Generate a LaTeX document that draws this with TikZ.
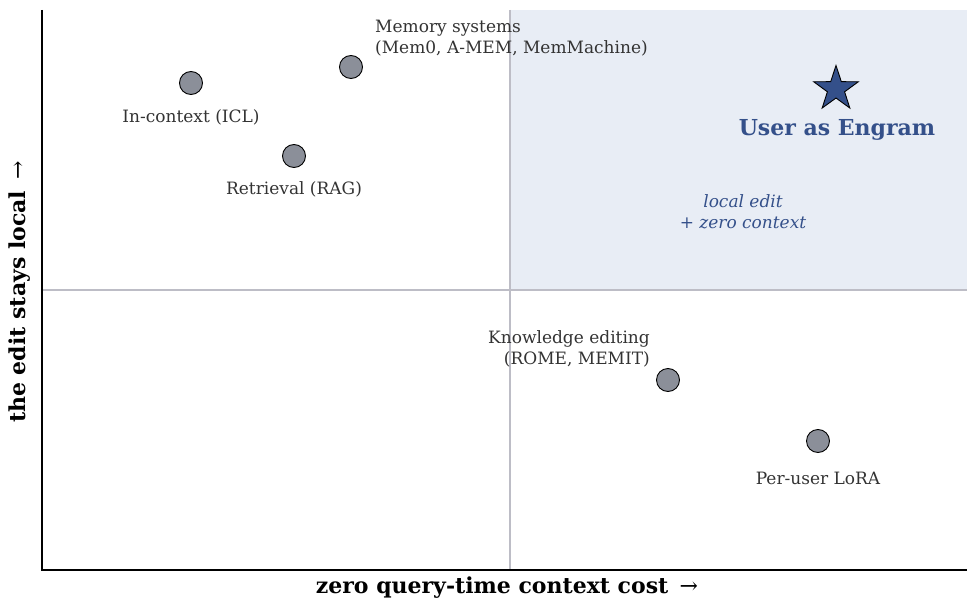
\documentclass[tikz,border=0pt]{standalone}
\usepackage{fontspec}
\setmainfont{DejaVu Serif}
\usetikzlibrary{shapes.geometric}
\definecolor{pt}{HTML}{8B8F99}
\definecolor{engram}{HTML}{34508A}
\definecolor{quad}{HTML}{E8EDF5}
\definecolor{gridc}{HTML}{BDBDC6}
\definecolor{txt}{HTML}{333333}
\begin{document}
\begin{tikzpicture}[x=1pt,y=-1pt,
  dot/.style={circle,draw=black,fill=pt,line width=0.9pt,minimum size=23pt,inner sep=0pt},
  lbl/.style={text=txt,font=\fontsize{17}{21}\selectfont,inner sep=0pt,align=center},
  axlbl/.style={font=\fontsize{22}{26}\selectfont\bfseries,inner sep=0pt}]
\useasboundingbox (0,0) rectangle (967,599);
\fill[quad] (510,10) rectangle (967,290);
\draw[gridc,line width=1.1pt] (510,10) -- (510,570);
\draw[gridc,line width=1.1pt] (42,290) -- (967,290);
\draw[black,line width=1.4pt] (42,10) -- (42,570) -- (967,570);
\node[dot] (icl) at (191,83) {};
\node[dot] (mem) at (351,67) {};
\node[dot] (rag) at (294,156) {};
\node[dot] (ke) at (668,380) {};
\node[dot] (lora) at (818,441) {};
\node[star,star points=5,star point ratio=2.6,draw=black,fill=engram,line width=0.9pt,minimum size=47pt,inner sep=0pt] (eng) at (836,89) {};
\node[lbl] (iclL) at (191,117) {In-context (ICL)};
\node[lbl,align=left,anchor=west] (memL) at (375,38.5) {Memory systems\\(Mem0, A-MEM, MemMachine)};
\node[lbl] (ragL) at (294,189) {Retrieval (RAG)};
\node[lbl,align=right,anchor=east] (keL) at (650,349) {Knowledge editing\\(ROME, MEMIT)};
\node[lbl] (loraL) at (818,478) {Per-user LoRA};
\node[text=engram,font=\fontsize{22}{26}\selectfont\bfseries,inner sep=0pt] (engL) at (837,130) {User as Engram};
\node[text=engram,font=\fontsize{17}{21}\selectfont\itshape,inner sep=0pt,align=center] (q) at (743,211.5) {local edit\\+ zero context};
\node[axlbl] (xl) at (507,588) {zero query-time context cost \,{\mdseries →}};
\node[axlbl,rotate=90] (yl) at (20,292) {the edit stays local \,{\mdseries →}};
\end{tikzpicture}
\end{document}
